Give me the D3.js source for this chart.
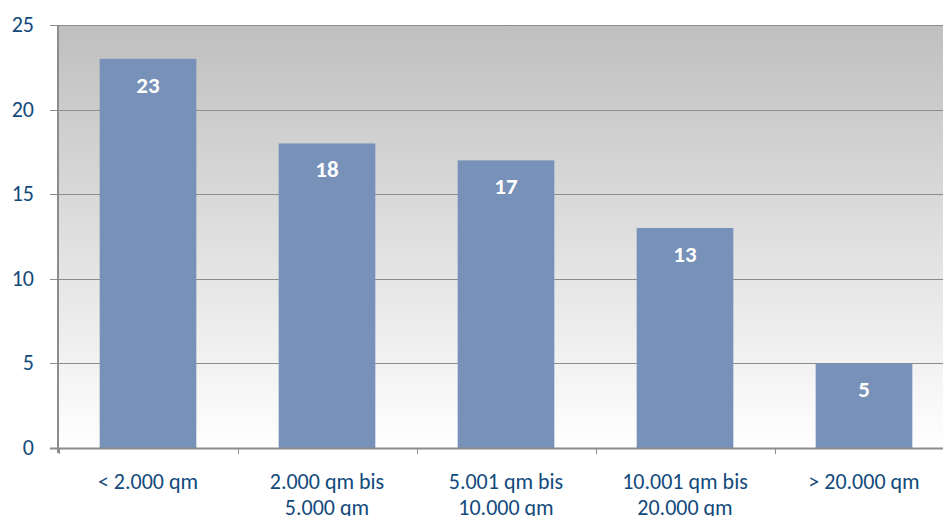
<!DOCTYPE html>
<html>
<head>
<meta charset="utf-8">
<script src="https://cdn.jsdelivr.net/npm/d3@7"></script>
<style>
  html, body { margin: 0; padding: 0; background: #fff; overflow: hidden; }
  svg { display: block; font-family: Carlito, Lato, "Open Sans", sans-serif; }
</style>
</head>
<body>
<svg id="chart" width="943" height="516"></svg>
<script>
// Number of sites by floor area class
const categories = [
  ["< 2.000 qm"],
  ["2.000 qm bis", "5.000 qm"],
  ["5.001 qm bis", "10.000 qm"],
  ["10.001 qm bis", "20.000 qm"],
  ["> 20.000 qm"]
];
const values = [23, 18, 17, 13, 5];
const yTicks = [0, 5, 10, 15, 20, 25];

const svg = d3.select("#chart");
const plotLeft = 58.5, plotRight = 953.5, plotTop = 25, plotBottom = 448;

const x = d3.scaleBand()
  .domain(d3.range(categories.length))
  .range([plotLeft, plotRight])
  .paddingInner(0.46)
  .paddingOuter(0.23);
const y = d3.scaleLinear().domain([0, 25]).range([plotBottom, plotTop]);

// plot background gradient
const defs = svg.append("defs");
const grad = defs.append("linearGradient")
  .attr("id", "bg").attr("x1", 0).attr("y1", 0).attr("x2", 0).attr("y2", 1);
grad.append("stop").attr("offset", "0%").attr("stop-color", "#bfbfbf");
grad.append("stop").attr("offset", "100%").attr("stop-color", "#ffffff");

svg.append("rect")
  .attr("x", plotLeft).attr("y", plotTop)
  .attr("width", plotRight - plotLeft).attr("height", plotBottom - plotTop)
  .attr("fill", "url(#bg)");

// horizontal gridlines with left tick stubs
svg.append("g").selectAll("line")
  .data(yTicks.filter(d => d > 0))
  .join("line")
  .attr("x1", 50).attr("x2", plotRight)
  .attr("y1", d => Math.round(y(d)) + 0.5).attr("y2", d => Math.round(y(d)) + 0.5)
  .attr("stroke", "#8c8c8c").attr("stroke-width", 1);

// bars
svg.append("g").selectAll("rect")
  .data(values)
  .join("rect")
  .attr("x", (d, i) => x(i))
  .attr("width", x.bandwidth())
  .attr("y", d => y(d))
  .attr("height", d => y(0) - y(d))
  .attr("fill", "#7891b8");

// value labels inside bars
svg.append("g").selectAll("text")
  .data(values)
  .join("text")
  .attr("x", (d, i) => x(i) + x.bandwidth() / 2)
  .attr("y", d => y(d) + 34)
  .attr("text-anchor", "middle")
  .attr("fill", "#ffffff")
  .attr("font-weight", "bold")
  .attr("font-size", 23)
  .text(d => d);

// y axis line
svg.append("line")
  .attr("x1", plotLeft - 0.5).attr("x2", plotLeft - 0.5)
  .attr("y1", plotTop).attr("y2", plotBottom + 5)
  .attr("stroke", "#8c8c8c").attr("stroke-width", 2);

// x axis line
svg.append("line")
  .attr("x1", 50).attr("x2", plotRight)
  .attr("y1", plotBottom + 0.5).attr("y2", plotBottom + 0.5)
  .attr("stroke", "#8c8c8c").attr("stroke-width", 2);

// x axis tick marks at category boundaries
const bounds = d3.range(categories.length + 1)
  .map(i => plotLeft + i * (plotRight - plotLeft) / categories.length);
svg.append("g").selectAll("line")
  .data(bounds)
  .join("line")
  .attr("x1", d => Math.round(d) + 0.5).attr("x2", d => Math.round(d) + 0.5)
  .attr("y1", plotBottom).attr("y2", plotBottom + 6)
  .attr("stroke", "#8c8c8c").attr("stroke-width", 1);

// y tick labels
svg.append("g").selectAll("text")
  .data(yTicks)
  .join("text")
  .attr("x", 34)
  .attr("y", d => y(d) + 7)
  .attr("text-anchor", "end")
  .attr("fill", "#124a7c")
  .attr("font-size", 22)
  .text(d => d);

// category labels
const cat = svg.append("g").selectAll("text")
  .data(categories)
  .join("text")
  .attr("x", (d, i) => x(i) + x.bandwidth() / 2)
  .attr("y", 489)
  .attr("text-anchor", "middle")
  .attr("fill", "#124a7c")
  .attr("font-size", 22);
cat.selectAll("tspan")
  .data(d => d)
  .join("tspan")
  .attr("x", function() { return d3.select(this.parentNode).attr("x"); })
  .attr("dy", (d, i) => i === 0 ? 0 : 26)
  .text(d => d);
</script>
</body>
</html>
